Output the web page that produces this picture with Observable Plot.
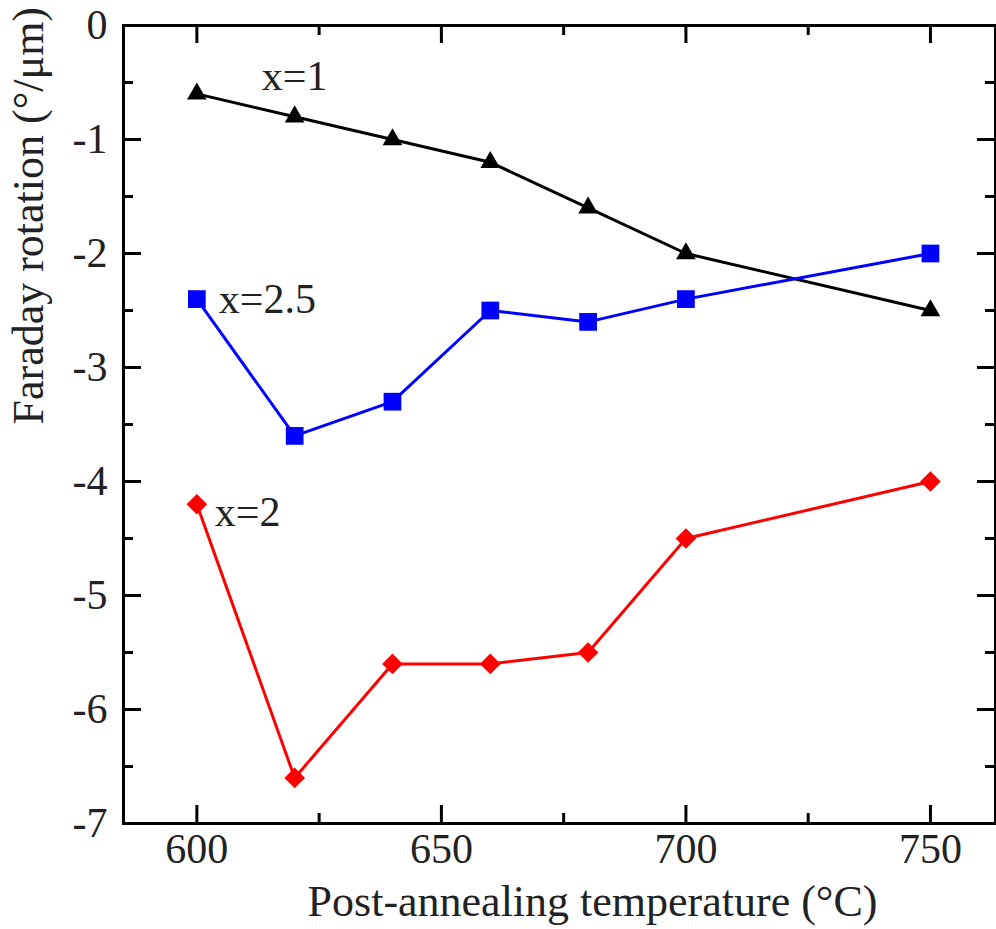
<!DOCTYPE html>
<html><head><meta charset="utf-8">
<script src="https://cdn.jsdelivr.net/npm/d3@7"></script>
<script src="https://cdn.jsdelivr.net/npm/@observablehq/plot@0.6"></script>
<style>
body{margin:0;background:#fff}
svg, svg text, svg g {font-family: "Liberation Serif", "Times New Roman", Times, serif !important;}
</style>
</head><body><div id="chart"></div>
<script>
const temps = [600, 620, 640, 660, 680, 700, 750];
const seriesX1 = [-0.6, -0.8, -1.0, -1.2, -1.6, -2.0, -2.5];
const seriesX25 = [-2.4, -3.6, -3.3, -2.5, -2.6, -2.4, -2.0];
const seriesX2 = [-4.2, -6.6, -5.6, -5.6, -5.5, -4.5, -4.0];
const seriesNames = ["x=1", "x=2.5", "x=2"];
const xMajor = [600, 650, 700, 750];
const xMinor = [625, 675, 725];
const yMajor = [0, -1, -2, -3, -4, -5, -6, -7];
const yMinor = [-0.5, -1.5, -2.5, -3.5, -4.5, -5.5, -6.5];
const xTitle = "Post-annealing temperature (°C)";
const yTitle = "Faraday rotation (°/μm)";

const FONT = "Liberation Serif";
const W = 996, H = 929;
const mL = 123, mR = 1, mT = 25, mB = 106;
const FW = W - mL - mR, FH = H - mT - mB;

const styles = [
  {color: "#000000", symbol: "triangle", r: 7.3, labelIdx: 1, dx: 0, dy: -40, anchor: "middle"},
  {color: "#0000ff", symbol: "square", r: 10, labelIdx: 0, dx: 22, dy: 0, anchor: "start"},
  {color: "#ff0000", symbol: "diamond2", r: 9.3, labelIdx: 0, dx: 18, dy: 8, anchor: "start"}
];
const allSeries = [seriesX1, seriesX25, seriesX2];
const tables = allSeries.map((vals, k) => temps.map((t, i) => ({t, v: vals[i], series: seriesNames[k]})));

const marks = [];
tables.forEach((tab, k) => {
  const s = styles[k];
  marks.push(Plot.line(tab, {x: "t", y: "v", stroke: s.color, strokeWidth: 3}));
  marks.push(Plot.dot(tab, {x: "t", y: "v", symbol: () => s.symbol, fill: s.color, r: s.r, stroke: "none"}));
  marks.push(Plot.text([tab[s.labelIdx]], {x: "t", y: "v", text: d => d.series, dx: s.dx, dy: s.dy, textAnchor: s.anchor, fontSize: 42, fontFamily: FONT, fill: "#222"}));
});

const chart = Plot.plot({
  width: W, height: H,
  marginLeft: mL, marginRight: mR, marginTop: mT, marginBottom: mB,
  style: {fontFamily: FONT, fontSize: "42px", color: "#222", background: "#fff"},
  x: {domain: [585, 763.3]},
  y: {domain: [-7, 0]},
  marks: [
    ...marks,
    Plot.frame({stroke: "#000", strokeWidth: 3}),
    Plot.tickX(xMajor, {x: d => d, insetTop: FH - 18, stroke: "#000", strokeWidth: 3}),
    Plot.tickX(xMajor, {x: d => d, insetBottom: FH - 18, stroke: "#000", strokeWidth: 3}),
    Plot.tickX(xMinor, {x: d => d, insetTop: FH - 10, stroke: "#000", strokeWidth: 3}),
    Plot.tickX(xMinor, {x: d => d, insetBottom: FH - 10, stroke: "#000", strokeWidth: 3}),
    Plot.tickY(yMajor, {y: d => d, insetRight: FW - 18, stroke: "#000", strokeWidth: 3}),
    Plot.tickY(yMajor, {y: d => d, insetLeft: FW - 18, stroke: "#000", strokeWidth: 3}),
    Plot.tickY(yMinor, {y: d => d, insetRight: FW - 10, stroke: "#000", strokeWidth: 3}),
    Plot.tickY(yMinor, {y: d => d, insetLeft: FW - 10, stroke: "#000", strokeWidth: 3}),
    Plot.axisX({ticks: xMajor, tickSize: 0, tickPadding: 10, tickFormat: d => String(d), label: null, fontSize: 42, fontFamily: FONT, fill: "#222"}),
    Plot.axisY({ticks: yMajor, tickSize: 0, tickPadding: 16, tickFormat: d => String(d), label: null, fontSize: 42, fontFamily: FONT, fill: "#222"}),
    Plot.text([xTitle], {frameAnchor: "bottom", text: d => d, dx: 33, dy: 78, lineAnchor: "middle", fontSize: 44, fontFamily: FONT, fill: "#222"}),
    Plot.text([yTitle], {frameAnchor: "left", text: d => d, rotate: -90, dx: -95, lineAnchor: "middle", fontSize: 44, fontFamily: FONT, fill: "#222"})
  ]
});
document.getElementById("chart").appendChild(chart);
</script>
</body></html>
